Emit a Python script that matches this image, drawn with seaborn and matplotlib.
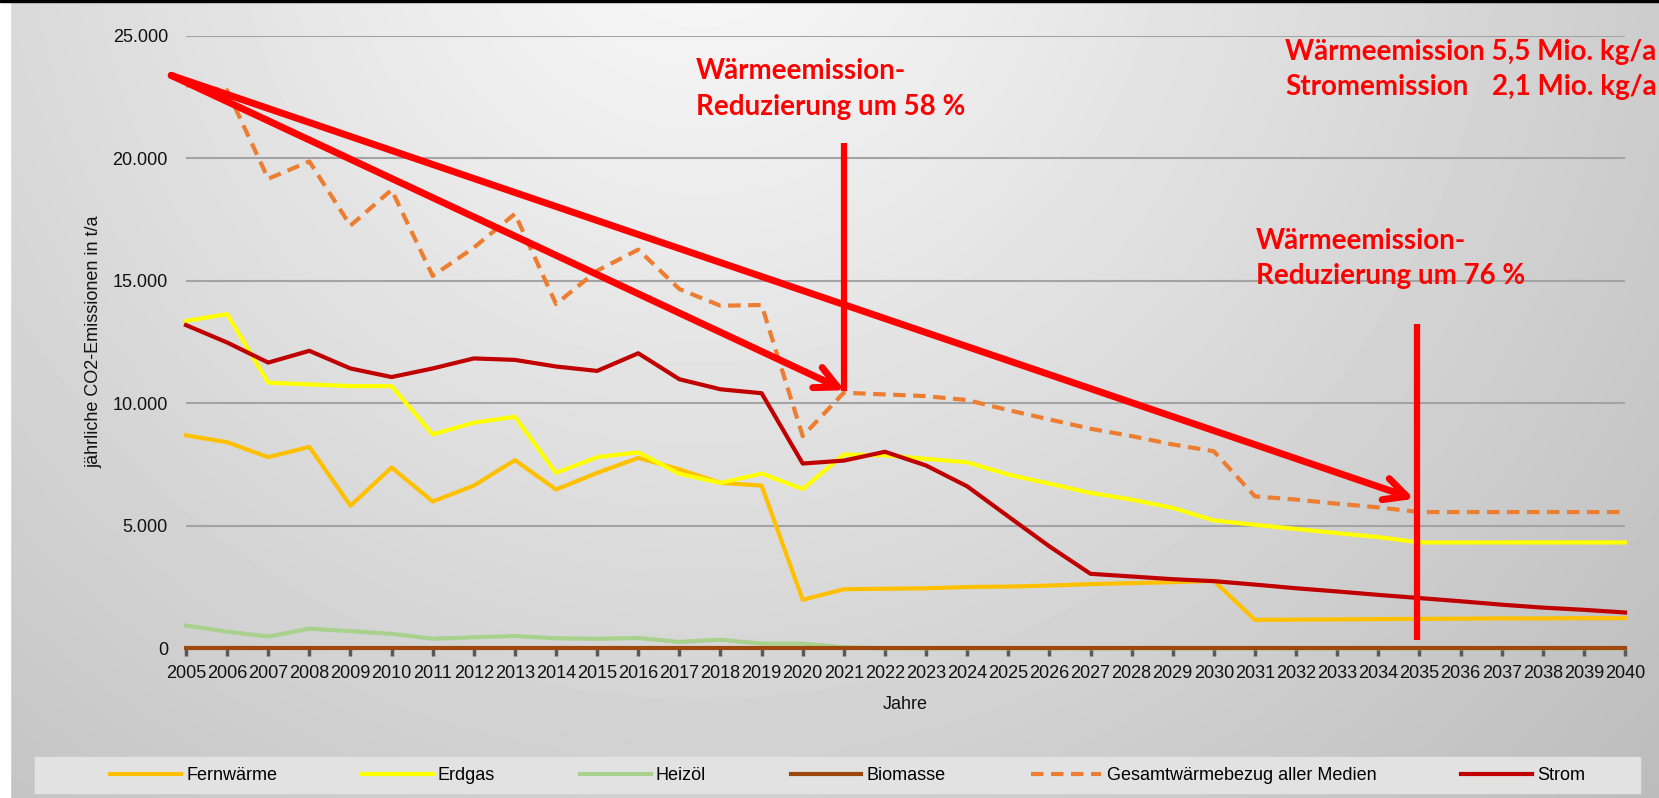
import numpy as np
import pandas as pd
import seaborn as sns
import matplotlib.pyplot as plt
from matplotlib.patches import Rectangle
from matplotlib.ticker import FuncFormatter

# Werte (t/a)
jahre = list(range(2005, 2041))

fernwaerme = [8690, 8410, 7800, 8220, 5820, 7380, 5990, 6640, 7680, 6480, 7160, 7770,
              7300, 6750, 6640, 1980, 2410, 2430, 2450, 2500, 2520, 2560, 2620, 2660,
              2700, 2750, 1160, 1170, 1180, 1190, 1200, 1210, 1220, 1220, 1230, 1230]
erdgas = [13360, 13640, 10840, 10770, 10700, 10700, 8730, 9210, 9450, 7160, 7800, 8000,
          7120, 6750, 7130, 6500, 7910, 7870, 7730, 7590, 7090, 6720, 6340, 6070,
          5730, 5220, 5040, 4870, 4700, 4540, 4320, 4320, 4320, 4320, 4320, 4320]
heizoel = [930, 680, 480, 800, 700, 590, 390, 450, 500, 410, 390, 420,
           260, 350, 190, 190, 40, 0, 0, 0, 0, 0, 0, 0,
           0, 0, 0, 0, 0, 0, 0, 0, 0, 0, 0, 0]
biomasse = [30] * 36
gesamt = [22980, 22770, 19160, 19870, 17250, 18710, 15200, 16350, 17730, 14050, 15410, 16270,
          14660, 13980, 14010, 8660, 10430, 10360, 10290, 10130, 9720, 9340, 8960, 8660,
          8320, 8040, 6200, 6070, 5900, 5750, 5560, 5560, 5560, 5560, 5560, 5560]
strom = [13190, 12480, 11660, 12140, 11420, 11070, 11420, 11830, 11770, 11500, 11320, 12040,
         10980, 10570, 10410, 7540, 7660, 8020, 7460, 6610, 5380, 4160, 3040, 2930,
         2820, 2740, 2600, 2450, 2320, 2180, 2050, 1920, 1780, 1660, 1570, 1460]

medien = ['Fernwärme', 'Erdgas', 'Heizöl', 'Biomasse',
          'Gesamtwärmebezug aller Medien', 'Strom']
werte = [fernwaerme, erdgas, heizoel, biomasse, gesamt, strom]
farben = ['#FFC000', '#FFFF00', '#A9D18E', '#9E480E', '#ED7D31', '#C00000']

# Pfeile / Markierungen (Jahr, t/a)
pfeil_start = (2004.64, 23380)
pfeil_ende_2021 = (2021.02, 10530)
pfeil_ende_2035 = (2034.87, 6100)
linie_2021 = (2021, 10500, 20630)
linie_2035 = (2034.95, 330, 13250)

df = pd.DataFrame({
    'Jahr': jahre * len(medien),
    'Wert': [v for reihe in werte for v in reihe],
    'Medium': [m for m in medien for _ in jahre],
})

plt.rcParams['font.family'] = ['Liberation Sans', 'DejaVu Sans']

W, H = 1659, 798
fig = plt.figure(figsize=(W / 100, H / 100), dpi=100)

# Hintergrund mit Verlauf
bg = fig.add_axes([0, 0, 1, 1], zorder=-5)
yy, xx = np.mgrid[0:H, 0:W]
grau = 250 - 0.0474 * np.hypot(xx - 700, yy + 100)
bg.imshow(grau, cmap='gray', vmin=0, vmax=255, aspect='auto', extent=(0, 1, 0, 1))
bg.add_patch(Rectangle((0, 0), 10 / W, 1, transform=bg.transAxes, color='white'))
bg.add_patch(Rectangle((0, 1 - 2 / H), 1, 2 / H, transform=bg.transAxes, color='black'))
bg.add_patch(Rectangle((35 / W, 5 / H), 1605 / W, 36 / H, transform=bg.transAxes,
                       color='#E2E2E2'))
bg.set_xlim(0, 1)
bg.set_ylim(0, 1)
bg.axis('off')

ax = fig.add_axes([186 / W, 1 - 648.3 / H, 1439 / W, 612.6 / H])
ax.set_facecolor('none')

sns.lineplot(data=df, x='Jahr', y='Wert', hue='Medium', style='Medium',
             hue_order=medien, style_order=medien, palette=dict(zip(medien, farben)),
             dashes={m: ((3, 1.8) if m.startswith('Gesamt') else '') for m in medien},
             linewidth=3, legend=False, ax=ax)
linien = list(ax.lines)
for ln in linien:
    ln.set_clip_on(False)

ax.set_xlim(2005, 2040)
ax.set_ylim(0, 25000)
ax.set_xticks(jahre)
ax.set_yticks(range(0, 25001, 5000))
ax.yaxis.set_major_formatter(FuncFormatter(lambda v, p: f'{int(v):,}'.replace(',', '.')))
ax.grid(axis='y', color='#A3A3A3', lw=1.5)
ax.set_axisbelow(True)
for s in ax.spines.values():
    s.set_visible(False)
ax.tick_params(axis='x', length=6, width=2.5, color='#595959', pad=6, labelsize=13,
               labelcolor='#111111')
ax.tick_params(axis='y', length=0, pad=13, labelsize=13, labelcolor='#111111')

ax.set_xlabel('Jahre', fontsize=13, color='#111111')
ax.xaxis.set_label_coords(0.5, -0.078)
ax.set_ylabel('jährliche CO2-Emissionen in t/a', fontsize=13, color='#111111')
ax.yaxis.set_label_coords(-0.058, 0.5)

# rote Pfeile und Linien
rot = '#FF0000'
for ende in (pfeil_ende_2021, pfeil_ende_2035):
    ax.annotate('', xy=ende, xytext=pfeil_start, annotation_clip=False,
                arrowprops=dict(arrowstyle='->', color=rot, lw=5, shrinkA=0, shrinkB=0,
                                mutation_scale=40))
for x, y0, y1 in (linie_2021, linie_2035):
    ax.plot([x, x], [y0, y1], color=rot, lw=4.5, solid_capstyle='butt', zorder=5)

# Beschriftungen
txt = dict(color=rot, fontsize=20, fontweight='bold', family=['Lato', 'DejaVu Sans'],
           va='baseline')
fig.text(696 / W, 1 - 79 / H, 'Wärmeemission-', **txt)
fig.text(696 / W, 1 - 115 / H, 'Reduzierung um 58 %', **txt)
fig.text(1256 / W, 1 - 249 / H, 'Wärmeemission-', **txt)
fig.text(1256 / W, 1 - 284 / H, 'Reduzierung um 76 %', **txt)
zeile1 = fig.text(1285 / W, 1 - 60 / H, 'Wärmeemission 5,5 Mio. kg/a', **txt)
fig.text(1285 / W, 1 - 95 / H, 'Stromemission', **txt)
fig.canvas.draw()
rechts = zeile1.get_window_extent().x1 / W
fig.text(rechts, 1 - 95 / H, '2,1 Mio. kg/a', ha='right', **txt)

fig.legend(linien[:6], medien, loc='center', bbox_to_anchor=(0.511, 1 - 776 / H),
           ncol=6, frameon=False, fontsize=13, handlelength=3.9, handletextpad=0.3,
           columnspacing=4.7)

fig.savefig('out.png', dpi=100)
